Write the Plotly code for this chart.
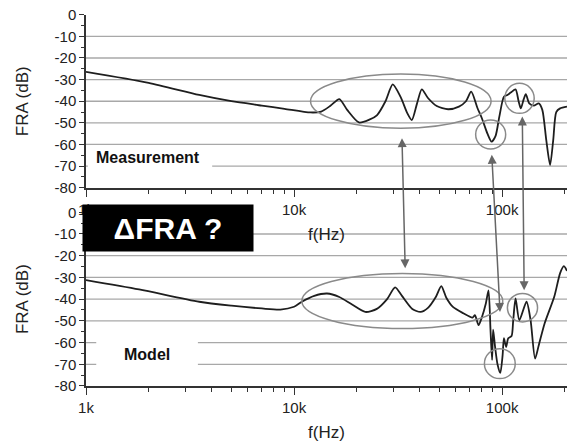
import math
import plotly.graph_objects as go

# ---------------- data ----------------
meas_f = [1000, 2000, 3500, 5000, 7000, 9000, 12000, 13500, 15000, 16500, 18000, 20500,
          23000, 25000, 27500, 29800, 32500, 35000, 36800, 39000, 41100, 44000, 48500,
          55000, 62000, 67000, 71000, 76000, 80000, 85000, 89000, 93000, 97000, 102000,
          106000, 110000, 116000, 120000, 123000, 127000, 130000, 135000, 142000, 150000,
          156000, 163000, 170000, 176000, 182000, 190000, 205000]
meas_db = [-26.4, -31.5, -37.1, -40.0, -42.0, -43.5, -45.2, -44.8, -42.0, -39.0, -44.0, -49.8,
           -48.5, -46.5, -40.0, -32.2, -38.0, -45.5, -48.7, -41.0, -34.5, -38.5, -42.2,
           -43.7, -42.5, -40.0, -35.6, -43.0, -48.0, -55.0, -58.7, -56.0, -47.0, -37.9,
           -37.1, -36.0, -34.5, -40.0, -43.3, -39.0, -36.7, -41.0, -42.0, -41.0,
           -44.0, -58.0, -69.5, -58.0, -45.0, -43.3, -42.5]

model_f = [1000, 1800, 3500, 5000, 7000, 8600, 10000, 10900, 12500, 14400, 16500, 19000,
           22000, 25000, 28000, 30600, 33000, 37000, 40500, 44000, 48000, 51000, 54000,
           58000, 65000, 72000, 74000, 77000, 80000, 83500, 86000, 88000, 89500, 90500,
           92500, 95000, 98000, 100500, 102000, 104500, 107000, 111000, 113000, 116000,
           121000, 131000, 137000, 144000, 150000, 160000, 178000, 190000, 198000, 205000]
model_db = [-31.2, -35.5, -41.2, -43.0, -44.3, -44.8, -43.5, -41.2, -38.5, -37.4, -39.0, -42.5,
            -45.9, -44.5, -40.0, -34.6, -38.5, -44.5, -45.9, -44.0, -39.0, -34.0, -39.5,
            -43.6, -46.5, -48.5, -47.4, -52.0, -48.2, -42.0, -36.0, -55.0, -68.0, -54.0,
            -62.0, -70.0, -74.0, -66.0, -58.0, -62.0, -58.0, -57.0, -50.0, -39.7,
            -49.7, -41.2, -49.7, -67.4, -61.2, -51.2, -38.9, -28.0, -24.8, -27.0]

y_ticks = [0, -10, -20, -30, -40, -50, -60, -70, -80]
y_minor = [-5, -15, -25, -35, -45, -55, -65, -75]
grid_db = [-10, -20, -30, -40, -50, -60, -70]
x_major = [1000, 10000, 100000]
x_labels = ["1k", "10k", "100k"]
x_minor = [2000, 3000, 4000, 5000, 6000, 7000, 8000, 9000,
           20000, 30000, 40000, 50000, 60000, 70000, 80000, 90000, 200000]
x_min, x_max = 1000, 205000

# ellipses: (f0, f1, db0, db1)
top_ellipses = [(12000, 88500, -52.5, -27.4), (74600, 104000, -62.1, -48.7),
                (103000, 142600, -45.6, -31.7)]
bottom_ellipses = [(10900, 100700, -53.5, -28.2), (82200, 115600, -76.6, -62.8),
                   (106000, 148000, -50.5, -37.4)]
# arrows: (top f, top dB, bottom f, bottom dB)
arrows = [(33000, -56.4, 34200, -25.8), (89100, -64.1, 97700, -45.9),
          (125000, -46.4, 127600, -35.9)]

top_dom = [0.533, 0.998]
bot_dom = [0.0, 0.467]

# -------------- figure --------------
fig = go.Figure()
fig.add_trace(go.Scatter(x=meas_f, y=meas_db, xaxis="x", yaxis="y", mode="lines",
                         line=dict(color="#1e1e1e", width=1.8, shape="spline", smoothing=0.7),
                         showlegend=False, hoverinfo="skip"))
fig.add_trace(go.Scatter(x=model_f, y=model_db, xaxis="x2", yaxis="y2", mode="lines",
                         line=dict(color="#1e1e1e", width=1.8, shape="spline", smoothing=0.7),
                         showlegend=False, hoverinfo="skip"))

tickfont = dict(family="Arial, Liberation Sans, sans-serif", size=15, color="#222")
titlefont = dict(family="Arial, Liberation Sans, sans-serif", size=17, color="#222")


def xaxis_cfg(anchor):
    return dict(type="log", range=[math.log10(x_min), math.log10(x_max)], anchor=anchor,
                domain=[0, 1], showgrid=False, zeroline=False, showline=True,
                linecolor="#333", linewidth=2, ticks="outside", ticklen=7, tickwidth=1.2,
                tickcolor="#333", tickvals=x_major, ticktext=x_labels, tickfont=tickfont,
                minor=dict(tickvals=x_minor, ticks="outside", ticklen=4, tickcolor="#333",
                           tickwidth=1.2),
                title=dict(text="f(Hz)", font=titlefont, standoff=11))


def yaxis_cfg(anchor, dom):
    return dict(range=[-80, 0], anchor=anchor, domain=dom, showgrid=False, zeroline=False,
                showline=True, linecolor="#333", linewidth=1.5, ticks="outside", ticklen=5,
                tickwidth=1.2, tickcolor="#333", tickvals=y_ticks,
                ticktext=[str(v) for v in y_ticks], tickfont=tickfont,
                minor=dict(tickvals=y_minor, ticks="outside", ticklen=3, tickcolor="#333",
                           tickwidth=1.2),
                title=dict(text="FRA (dB)", font=titlefont, standoff=22))


shapes = []
for xr, yr in (("x", "y"), ("x2", "y2")):
    for g in grid_db:
        shapes.append(dict(type="line", xref=xr, yref=yr, x0=x_min, x1=x_max, y0=g, y1=g,
                           line=dict(color="#a8a8a8", width=1.3), layer="below"))
# white label backgrounds
shapes.append(dict(type="rect", xref="x", yref="y", x0=1020, x1=4040, y0=-72.7, y1=-61.2,
                   fillcolor="white", line=dict(width=0), layer="below"))
shapes.append(dict(type="rect", xref="x2", yref="y2", x0=1120, x1=3450, y0=-73, y1=-57,
                   fillcolor="white", line=dict(width=0), layer="below"))
for (f0, f1, d0, d1) in top_ellipses:
    shapes.append(dict(type="circle", xref="x", yref="y", x0=f0, x1=f1, y0=d0, y1=d1,
                       line=dict(color="#8a8a8a", width=1.5)))
for (f0, f1, d0, d1) in bottom_ellipses:
    shapes.append(dict(type="circle", xref="x2", yref="y2", x0=f0, x1=f1, y0=d0, y1=d1,
                       line=dict(color="#8a8a8a", width=1.5)))


def top_db_in_bottom(d):
    p = top_dom[0] + (d + 80) / 80 * (top_dom[1] - top_dom[0])
    return (p - bot_dom[0]) / (bot_dom[1] - bot_dom[0]) * 80 - 80


annotations = []
for (ft, dt, fb, db) in arrows:
    annotations.append(dict(xref="x2", yref="y2", axref="x2", ayref="y2",
                            x=math.log10(fb), y=db, ax=math.log10(ft), ay=top_db_in_bottom(dt),
                            showarrow=True, arrowhead=2, startarrowhead=2, arrowside="end+start",
                            arrowsize=1.2, startarrowsize=1.2, arrowwidth=1.5,
                            arrowcolor="#666", text="", standoff=0, startstandoff=0))
annotations.append(dict(xref="x", yref="y", x=math.log10(1990), y=-66.0, text="<b>Measurement</b>",
                        showarrow=False, font=dict(family="Arial, Liberation Sans, sans-serif",
                                                   size=16, color="#111")))
annotations.append(dict(xref="x2", yref="y2", x=math.log10(1960), y=-65.4, text="<b>Model</b>",
                        showarrow=False, font=dict(family="Arial, Liberation Sans, sans-serif",
                                                   size=16, color="#111")))
annotations.append(dict(xref="paper", yref="paper", x=(168 - 86) / 481, y=(386 - 228) / 372,
                        xanchor="center", yanchor="middle", text="<b>ΔFRA ?</b>",
                        showarrow=False, bgcolor="black", width=170, height=46, borderpad=0,
                        font=dict(family="Arial, Liberation Sans, sans-serif", size=30,
                                  color="white")))

fig.update_layout(
    width=567, height=446,
    margin=dict(l=86, r=0, t=14, b=60),
    paper_bgcolor="white", plot_bgcolor="white",
    xaxis=xaxis_cfg("y"), yaxis=yaxis_cfg("x", top_dom),
    xaxis2=xaxis_cfg("y2"), yaxis2=yaxis_cfg("x2", bot_dom),
    shapes=shapes, annotations=annotations, showlegend=False,
)

fig.write_html("out.html")
